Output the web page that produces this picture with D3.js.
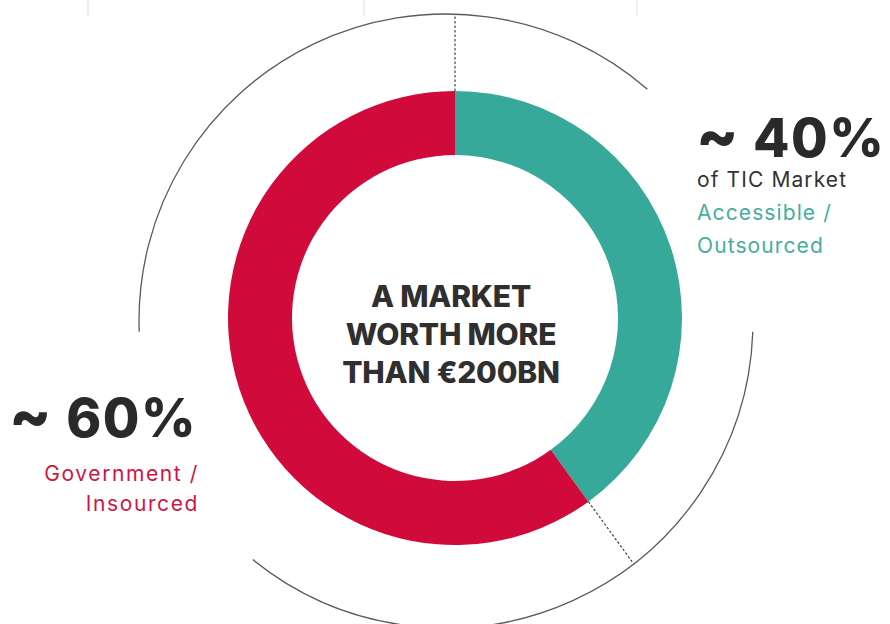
<!DOCTYPE html>
<html>
<head>
<meta charset="utf-8">
<script src="https://cdn.jsdelivr.net/npm/d3@7"></script>
<style>
  body { margin: 0; background: #fff; }
  svg text { font-family: Inter, "Open Sans", sans-serif; }
</style>
</head>
<body>
<div id="chart"></div>
<script>
// market split (percent of TIC market)
var segments = ["Accessible / Outsourced", "Government / Insourced"];
var shares = [40, 60];
var segColors = ["#37a99b", "#d10a3c"];
var textColors = ["#45ada0", "#cf1446"];

var headline = ["A MARKET", "WORTH MORE", "THAN €200BN"];
var bigLabels = ["~ 40%", "~ 60%"];
var subLabels = [["of TIC Market", "Accessible /", "Outsourced"], ["Government /", "Insourced"]];

// outer bracket arcs, degrees from 12 o'clock clockwise
var brackets = [[-92, 41], [92, 219]];

var W = 890, H = 624;
var cx = 455, cy = 318;
var rIn = 163, rOut = 227;
// bracket circle sits a little off the donut centre
var bx = 446, by = 321, rBr = 307;

var svg = d3.select("#chart").append("svg")
    .attr("width", W)
    .attr("height", H);

// faint slide guides at the very top
svg.selectAll(".guide").data([88, 364, 637]).enter()
  .append("line")
    .attr("x1", d => d).attr("x2", d => d)
    .attr("y1", 0).attr("y2", 16)
    .style("stroke", "#e8e8e8")
    .style("stroke-width", 1.5);

var g = svg.append("g").attr("transform", "translate(" + cx + "," + cy + ")");

var pie = d3.pie().sort(null).value(d => d);
var arcs = pie(shares);

var arc = d3.arc().innerRadius(rIn).outerRadius(rOut);

g.selectAll(".slice").data(arcs).enter()
  .append("path")
    .attr("class", "slice")
    .attr("d", arc)
    .style("fill", (d, i) => segColors[i]);

// thin bracket arcs
var rad = Math.PI / 180;
brackets.forEach(function(b) {
  var p = d3.path();
  p.arc(bx, by, rBr, b[0] * rad - Math.PI / 2, b[1] * rad - Math.PI / 2);
  svg.append("path")
      .attr("d", p.toString())
      .style("fill", "none")
      .style("stroke", "#5a5a5a")
      .style("stroke-width", 1.3);
});

// distance along a ray from the donut centre to the bracket circle
function hitBracket(a) {
  var ux = Math.sin(a), uy = -Math.cos(a);
  var ox = cx - bx, oy = cy - by;
  var bq = ox * ux + oy * uy;
  var cq = ox * ox + oy * oy - rBr * rBr;
  return -bq + Math.sqrt(bq * bq - cq);
}

// dashed dividers at the slice boundaries
g.selectAll(".divider").data(arcs).enter()
  .append("line")
    .attr("x1", d => rOut * Math.sin(d.startAngle))
    .attr("y1", d => -rOut * Math.cos(d.startAngle))
    .attr("x2", d => hitBracket(d.startAngle) * Math.sin(d.startAngle))
    .attr("y2", d => -hitBracket(d.startAngle) * Math.cos(d.startAngle))
    .style("stroke", "#444")
    .style("stroke-width", 1.2)
    .style("stroke-dasharray", "2.5,2");

// centre headline
svg.selectAll(".head").data(headline).enter()
  .append("text")
    .attr("x", 451)
    .attr("y", (d, i) => 307 + i * 38)
    .attr("text-anchor", "middle")
    .style("font-size", "30px")
    .style("font-weight", 800)
    .style("letter-spacing", "-0.2px")
    .style("fill", "#2f2f2f")
    .text(d => d);

// big percentage, with an oversized tilde
function bigLabel(label, x, y, anchor) {
  var t = svg.append("text")
      .attr("x", x).attr("y", y)
      .attr("text-anchor", anchor)
      .style("font-weight", 800)
      .style("letter-spacing", "1.5px")
      .style("fill", "#2a2a2a");
  t.append("tspan").style("font-size", "62px").text(label.slice(0, 1));
  t.append("tspan").style("font-size", "53px").text(label.slice(1));
}

// right block (40%)
bigLabel(bigLabels[0], 696, 157, "start");

svg.selectAll(".rsub").data(subLabels[0]).enter()
  .append("text")
    .attr("x", 697)
    .attr("y", (d, i) => 187 + i * 33)
    .style("font-size", "21px")
    .style("letter-spacing", "1.1px")
    .style("fill", (d, i) => i == 0 ? "#333" : textColors[0])
    .text(d => d);

// left block (60%)
bigLabel(bigLabels[1], 197, 437, "end");

svg.selectAll(".lsub").data(subLabels[1]).enter()
  .append("text")
    .attr("x", 199)
    .attr("y", (d, i) => 481 + i * 30)
    .attr("text-anchor", "end")
    .style("font-size", "21px")
    .style("letter-spacing", "1.6px")
    .style("fill", textColors[1])
    .text(d => d);
</script>
</body>
</html>
